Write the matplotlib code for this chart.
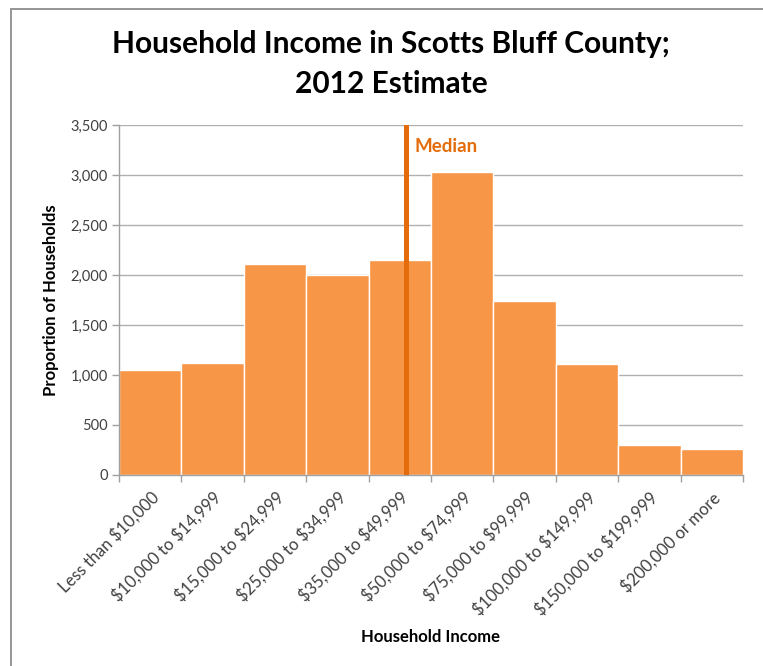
import matplotlib
matplotlib.use("Agg")
import matplotlib.pyplot as plt
from matplotlib.patches import Rectangle

# Household counts by income bracket, Scotts Bluff County (2012 estimate)
categories = [
    "Less than $10,000",
    "$10,000 to $14,999",
    "$15,000 to $24,999",
    "$25,000 to $34,999",
    "$35,000 to $49,999",
    "$50,000 to $74,999",
    "$75,000 to $99,999",
    "$100,000 to $149,999",
    "$150,000 to $199,999",
    "$200,000 or more",
]
households = [1050, 1117, 2110, 2000, 2147, 3027, 1737, 1110, 300, 257]

# Median position on the category axis (inside the $35,000-$49,999 bracket)
median_pos = 4.1

y_ticks = [0, 500, 1000, 1500, 2000, 2500, 3000, 3500]

title_lines = ["Household Income in Scotts Bluff County;", "2012 Estimate"]

W, H = 763, 666
plt.rcParams["font.family"] = ["Lato", "DejaVu Sans"]
plt.rcParams["text.parse_math"] = False

fig = plt.figure(figsize=(W / 100, H / 100), dpi=100)

# chart-area frame (only its top and left edges fall inside the image)
fig.patches.append(Rectangle((11 / W, -0.1), 1.2, 1.1 - 9 / H, transform=fig.transFigure,
                             fill=False, edgecolor="#8c8c8c", linewidth=1.3))

ax = fig.add_axes([119 / W, (H - 475) / H, (743 - 119) / W, 350 / H])

x = list(range(len(categories)))
ax.bar(x, households, width=1.0, color="#F79646", edgecolor="white",
       linewidth=1.0, zorder=2)

ax.set_xlim(-0.5, len(categories) - 0.5)
ax.set_ylim(0, 3500)
ax.set_yticks(y_ticks)
ax.set_yticklabels([f"{v:,}" for v in y_ticks], fontsize=10.5, color="#404040")
ax.yaxis.grid(True, color="#b0b0b0", linewidth=1.0, zorder=0)
ax.set_axisbelow(True)

# category labels centred on bars, tick marks on bin boundaries
ax.set_xticks(x)
ax.set_xticklabels(categories, rotation=45, ha="right", rotation_mode="anchor",
                   fontsize=12, color="#404040")
ax.tick_params(axis="x", length=0, pad=10)
ax.set_xticks([i - 0.5 for i in range(len(categories) + 1)], minor=True)
ax.tick_params(axis="x", which="minor", length=5, color="#a0a0a0", width=1)
ax.tick_params(axis="y", length=5, color="#a0a0a0", width=1, pad=3)

for side in ["top", "right"]:
    ax.spines[side].set_visible(False)
for side in ["left", "bottom"]:
    ax.spines[side].set_color("#a0a0a0")
    ax.spines[side].set_linewidth(1.0)

# median marker
ax.axvline(median_pos, color="#E46C0A", linewidth=3.6, zorder=3)
ax.text(median_pos + 0.13, 3290, "Median", color="#E46C0A", fontsize=13.5,
        fontweight="bold", ha="left", va="center")

ax.set_ylabel("Proportion of Households", fontsize=12, fontweight="bold",
              labelpad=8)
fig.text(431 / W, 1 - 637 / H, "Household Income", fontsize=12,
         fontweight="bold", ha="center", va="center")

for line, base in zip(title_lines, [53, 93]):
    fig.text(391 / W, 1 - base / H, line, fontsize=21.5, fontweight="bold",
             ha="center", va="baseline")

fig.savefig("out.png", dpi=100)
